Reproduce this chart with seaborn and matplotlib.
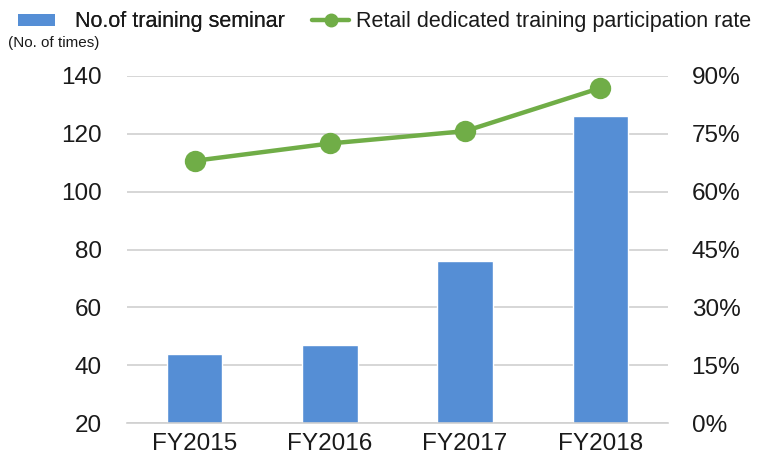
import pandas as pd
import matplotlib
matplotlib.use("Agg")
import matplotlib.pyplot as plt
import seaborn as sns
from matplotlib.patches import Patch
from matplotlib.lines import Line2D
from matplotlib.ticker import FuncFormatter

# ---------------------------
# Data
# ---------------------------
years = ["FY2015", "FY2016", "FY2017", "FY2018"]
seminars = [44, 47, 76, 126]
participation = [68.0, 72.5, 75.7, 86.9]  # percent

bar_color = "#558ed5"
line_color = "#70ad47"
grid_color = "#d0d0d0"
text_color = "#1a1a1a"

sns.set_theme(style="white")
plt.rcParams["font.family"] = ["Liberation Sans", "DejaVu Sans"]

df = pd.DataFrame({"year": years, "seminars": seminars, "rate": participation})

# ---------------------------
# Figure
# ---------------------------
W, H = 774, 459
fig = plt.figure(figsize=(W / 100, H / 100), dpi=100)
ax = fig.add_axes([127 / W, 36 / H, 541 / W, 347 / H])
ax2 = ax.twinx()

sns.barplot(data=df, x="year", y="seminars", color=bar_color, width=0.41,
            saturation=1, ax=ax, zorder=2)
ax.set_ylim(20, 140)
ax.set_yticks(range(20, 141, 20))
ax.yaxis.grid(True, color=grid_color, linewidth=1.2, zorder=0)
ax.set_axisbelow(True)
ax.set_xlabel("")
ax.set_ylabel("")

sns.pointplot(data=df, x="year", y="rate", color=line_color, ax=ax2,
              markers="o", markersize=13, linewidth=3.2, errorbar=None)
ax2.set_ylim(0, 90)
ax2.set_yticks(range(0, 91, 15))
ax2.yaxis.set_major_formatter(FuncFormatter(lambda v, p: f"{v:.0f}%"))
ax2.set_ylabel("")
ax.set_xlim(-0.5, 3.5)
ax2.set_xlim(-0.5, 3.5)

for a in (ax, ax2):
    for s in a.spines.values():
        s.set_visible(False)
    a.tick_params(length=0, labelsize=17.5, colors=text_color)
ax.spines["bottom"].set_visible(True)
ax.spines["bottom"].set_color(grid_color)
ax.spines["bottom"].set_linewidth(1.2)
ax.tick_params(axis="y", pad=18)
ax2.tick_params(axis="y", pad=17)
ax.tick_params(axis="x", pad=7)

# ---------------------------
# Legend and unit label
# ---------------------------
leg_fs = 15.5
leg1 = fig.legend([Patch(facecolor=bar_color, edgecolor="none")],
                  ["No.of training seminar"],
                  loc="center left", bbox_to_anchor=(18 / W, 1 - 22 / H),
                  frameon=False, fontsize=leg_fs, borderpad=0, borderaxespad=0,
                  handlelength=37 / 21.5, handleheight=0.5, handletextpad=20 / 21.5,
                  labelcolor=text_color)
fig.add_artist(leg1)
fig.legend([Line2D([0], [0], color=line_color, linewidth=3.2, marker="o", markersize=9)],
           ["Retail dedicated training participation rate"],
           loc="center left", bbox_to_anchor=(312 / W, 1 - 22 / H),
           frameon=False, fontsize=leg_fs, borderpad=0, borderaxespad=0,
           handlelength=37 / 21.5, handletextpad=7 / 21.5, labelcolor=text_color)

fig.text(8 / W, 1 - 43 / H, "(No. of times)", fontsize=11, color=text_color,
         va="center", ha="left")

fig.savefig("out.png", dpi=100)
